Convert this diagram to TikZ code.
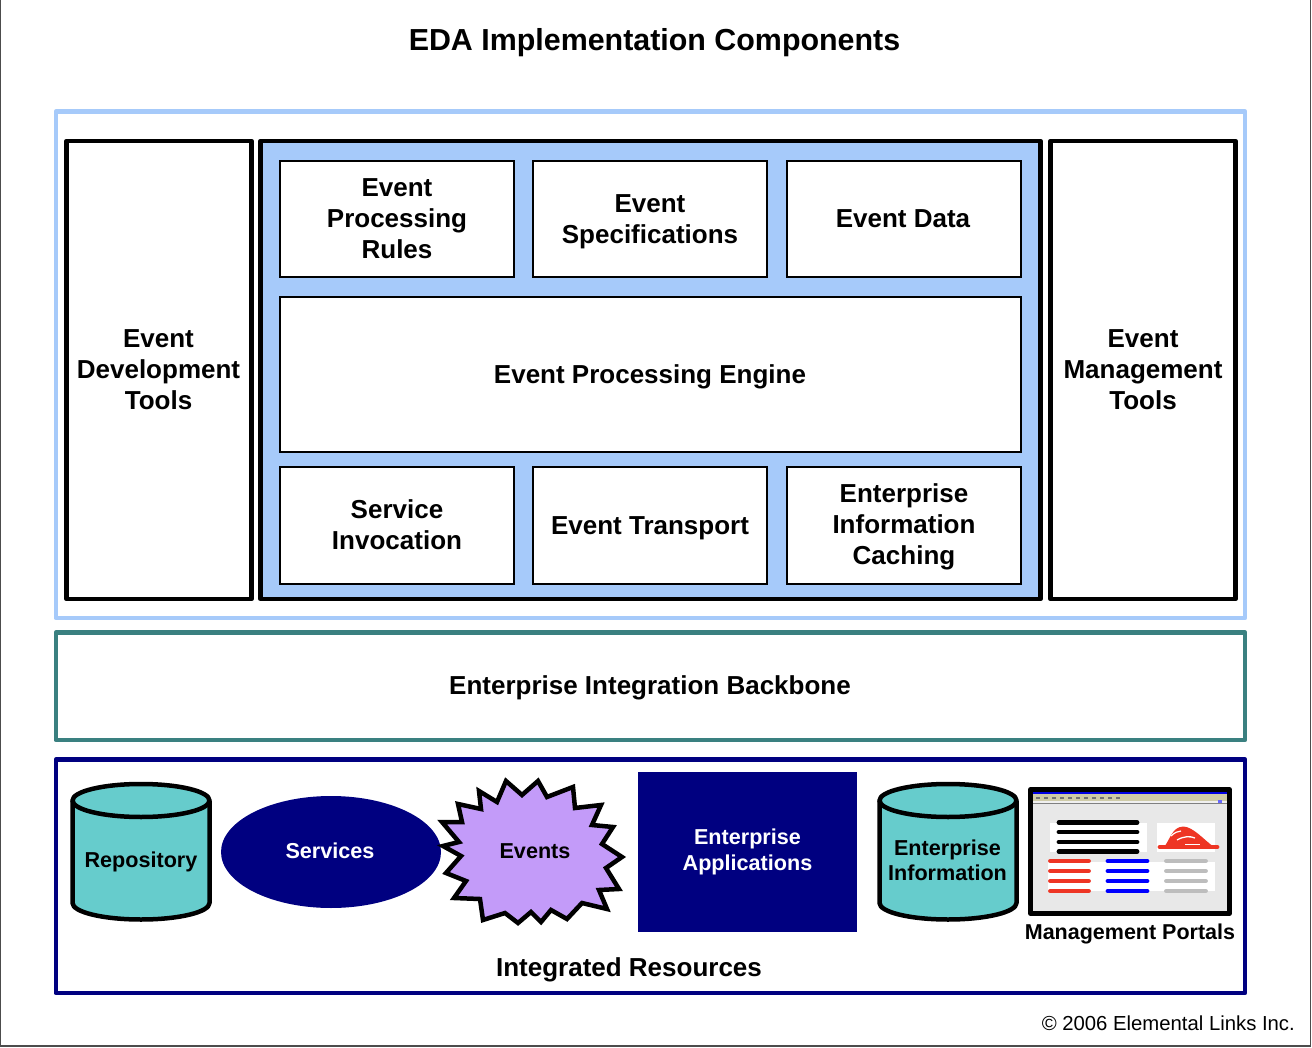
\documentclass[tikz,border=0pt]{standalone}
\usepackage{fontspec}
\setmainfont{Liberation Sans}
\definecolor{paleblue}{HTML}{A6CAFA}
\definecolor{tealline}{HTML}{3A8080}
\definecolor{navyblue}{HTML}{000080}
\definecolor{cylteal}{HTML}{66CCCC}
\definecolor{eventlilac}{HTML}{C39BF9}
\definecolor{portalred}{HTML}{EE3524}
\definecolor{portalgray}{HTML}{BDBDBD}
\definecolor{portalback}{HTML}{E8E8E8}
\definecolor{portalbeige}{HTML}{CFCBA8}
\tikzset{
  label text/.style={font=\fontsize{26}{31}\selectfont\bfseries, align=center, text=black},
  small text/.style={font=\fontsize{21.6}{25.5}\selectfont\bfseries, align=center, text=black},
  inner box/.style={draw=black, line width=1.1pt, fill=white},
  tool box/.style={draw=black, line width=4.5pt, fill=white, line join=round},
  db line/.style={draw=black, line width=4.5pt, fill=cylteal, line join=round},
  bar line/.style={line width=4.8pt, line cap=round},
}
\begin{document}
\begin{tikzpicture}[x=1pt, y=-1pt]
  \useasboundingbox (0,0) rectangle (1312,1048);
  \fill[white] (0,0) rectangle (1312,1048);

  % page frame
  \draw[black!70, line width=1.2pt] (0.6,-3) -- (0.6,1046) -- (1310.5,1046) -- (1310.5,-3);

  \node[font=\fontsize{30.4}{36}\selectfont\bfseries] (title) at (654.5,43) {EDA Implementation Components};
  \node[font=\fontsize{20.3}{24}\selectfont, anchor=east, inner sep=0pt] (copyright) at (1295,1023) {© 2006 Elemental Links Inc.};

  % outer frames
  \draw[paleblue, line width=4.5pt, line join=round] (55.8,111.7) rectangle (1245,618);
  \draw[tealline, line width=4.5pt, line join=round] (55.8,632.5) rectangle (1245,740);
  \draw[navyblue, line width=4.5pt, line join=round] (55.8,759.5) rectangle (1245,993);

  % tools and engine frame
  \draw[tool box] (66.5,141) rectangle (251.5,599);
  \draw[tool box, fill=paleblue] (260.7,141) rectangle (1040.5,599);
  \draw[tool box] (1050.5,141) rectangle (1235.5,599);

  % inner boxes
  \draw[inner box] (280,161) rectangle (514,277);
  \draw[inner box] (533,161) rectangle (767,277);
  \draw[inner box] (787,161) rectangle (1021,277);
  \draw[inner box] (280,297) rectangle (1021,452);
  \draw[inner box] (280,467) rectangle (514,584);
  \draw[inner box] (533,467) rectangle (767,584);
  \draw[inner box] (787,467) rectangle (1021,584);

  \node[label text] (devtools) at (158.5,370) {Event\\Development\\Tools};
  \node[label text] (mgmttools) at (1143,370) {Event\\Management\\Tools};
  \node[label text] (rules) at (397,219) {Event\\Processing\\Rules};
  \node[label text] (specs) at (650,222) {Event\\Specifications};
  \node[label text] (data) at (903,219) {Event Data};
  \node[label text] (engine) at (650,377) {Event Processing Engine};
  \node[label text] (invocation) at (397,525) {Service\\Invocation};
  \node[label text] (transport) at (650,528) {Event Transport};
  \node[label text] (caching) at (904,527) {Enterprise\\Information\\Caching};
  \node[label text] (backbone) at (650,688) {Enterprise Integration Backbone};
  \node[label text] (resources) at (629,970) {Integrated Resources};

  % repository
  \draw[db line] (72.5,800.5) -- (72.5,903) arc[start angle=180, end angle=0, x radius=68.5, y radius=16.5] -- (209.5,800.5);
  \draw[db line] (141,800.5) ellipse[x radius=68.5, y radius=16.5];
  \node[small text] (repository) at (141,862) {Repository};

  % services
  \fill[navyblue] (331,852) ellipse[x radius=110, y radius=56];
  \node[small text, text=white] (services) at (330,851) {Services};

  % events
  \draw[db line, fill=eventlilac, line join=miter]
    (506,781) -- (522,795) -- (538,781) -- (547,797) -- (573,787) -- (575,808) -- (601,805) -- (592,825)
    -- (613,827) -- (602,844) -- (622,857) -- (606,868) -- (619,889) -- (599,890) -- (607,909) -- (582,903)
    -- (567,919) -- (551,910) -- (541,922) -- (531,912) -- (518,923) -- (505,913) -- (483,920) -- (480,899)
    -- (454,898) -- (466,881) -- (446,873) -- (461,856) -- (443,846) -- (459,842) -- (442,822) -- (462,822)
    -- (458,804) -- (481,809) -- (479,791) -- (497,802) -- cycle;
  \node[small text] (events) at (535,851) {Events};

  % applications
  \fill[navyblue] (638,772) rectangle (857,932);
  \node[small text, text=white] (applications) at (747.5,852) {Enterprise\\Applications};

  % information
  \draw[db line] (879.5,800.5) -- (879.5,903) arc[start angle=180, end angle=0, x radius=68.5, y radius=16.5] -- (1016.5,800.5);
  \draw[db line] (948,800.5) ellipse[x radius=68.5, y radius=16.5];
  \node[small text] (information) at (947.5,860.5) {Enterprise\\Information};

  % portal window
  \fill[portalback] (1032,791) rectangle (1228,912);
  \fill[white] (1050,823) rectangle (1147,852);
  \fill[white] (1157,823) rectangle (1215,852);
  \fill[white] (1048,862) rectangle (1215,891);
  \fill[blue!90!black] (1032,791.5) rectangle (1228,794);
  \fill[portalbeige] (1032,794) rectangle (1228,800.5);
  \fill[black!6] (1032,800.5) rectangle (1228,803);
  \fill[black!50] (1032,803) rectangle (1228,804);
  \foreach \x in {1036,1044,...,1116}
    \fill[black!55] (\x,796.5) rectangle +(4,2.5);
  \fill[blue!60] (1218,800) rectangle (1222,803);
  \foreach \y in {822.5,832,842,851.5}
    \draw[bar line, black] (1059,\y) -- (1137,\y);
  \foreach \y in {861,871,881,891} {
    \draw[bar line, portalred] (1050.5,\y) -- (1088.5,\y);
    \draw[bar line, blue] (1108,\y) -- (1147,\y);
    \draw[bar line, portalgray] (1166.5,\y) -- (1205.5,\y);
  }
  % chart hill
  \fill[portalred] (1164,847) .. controls (1170,840) and (1172,827) .. (1183,826.5)
    .. controls (1193,826.5) and (1204,840) .. (1214,847) -- cycle;
  \draw[bar line, portalred] (1160,847) -- (1217,847);
  \draw[white, line width=1.2pt] (1171,836) .. controls (1175,832) and (1178,831.5) .. (1181,831);
  \draw[white, line width=1.3pt] (1177,840) .. controls (1184,836) and (1190,836) .. (1195,838);
  \draw[white, line width=1pt] (1185,844) -- (1200,844);
  \draw[black, line width=4.5pt, line join=round] (1030.5,789.5) rectangle (1229.5,913.5);
  \node[font=\fontsize{21.5}{25}\selectfont\bfseries] (portals) at (1130,934) {Management Portals};
\end{tikzpicture}
\end{document}
